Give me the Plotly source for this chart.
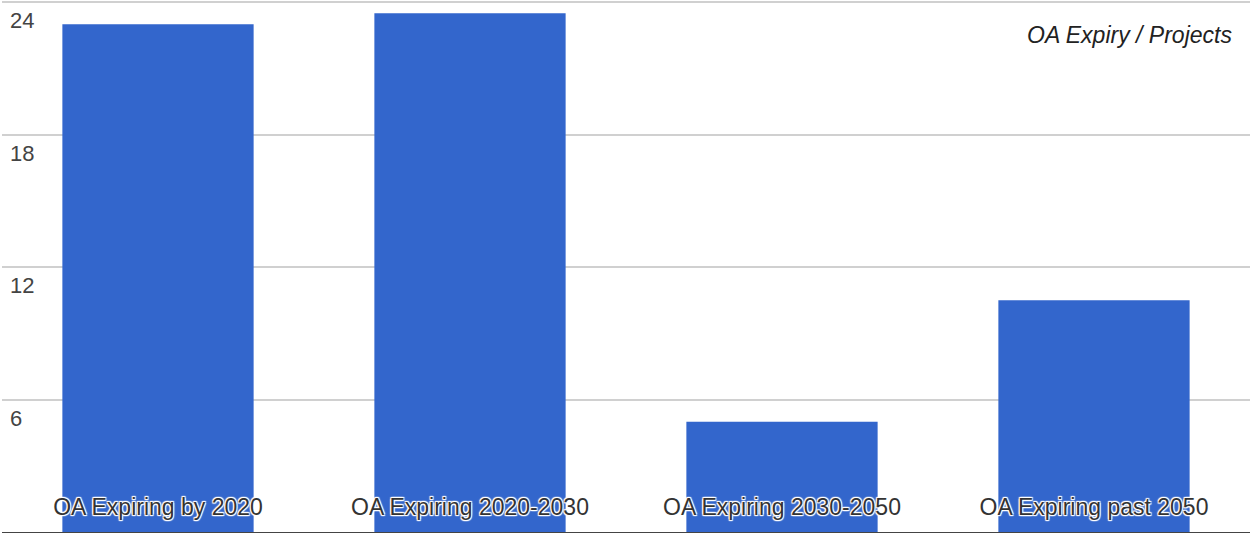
import plotly.graph_objects as go

categories = ["OA Expiring by 2020", "OA Expiring 2020-2030",
              "OA Expiring 2030-2050", "OA Expiring past 2050"]
projects = [23, 23.5, 5, 10.5]
y_ticks = [6, 12, 18, 24]
chart_title = "OA Expiry / Projects"

halo = ("1px 1px 1px #fff, -1px -1px 1px #fff, 1px -1px 1px #fff, "
        "-1px 1px 1px #fff, 0 1px 1px #fff, 0 -1px 1px #fff")

fig = go.Figure(go.Bar(
    x=categories, y=projects,
    marker=dict(color="#3366cc", line=dict(width=0)),
    hoverinfo="x+y",
))

fig.update_layout(
    width=1250, height=533,
    margin=dict(l=2, r=0, t=0, b=1),
    paper_bgcolor="white", plot_bgcolor="white",
    bargap=0.387,
    showlegend=False,
    font=dict(family="Liberation Sans, Arial, sans-serif", color="#444"),
    xaxis=dict(
        range=[-0.5, len(categories) - 0.5],
        ticklabelposition="inside",
        ticklabelstandoff=14,
        tickfont=dict(size=23, color="#333", shadow=halo),
        showline=True, linecolor="#444", linewidth=2,
        showgrid=False, ticks="",
    ),
    yaxis=dict(
        range=[0, 24.1],
        tickvals=y_ticks,
        ticklabelposition="inside bottom",
        ticklabelstandoff=5,
        ticklabelshift=3,
        tickfont=dict(size=22, color="#444"),
        showgrid=True, gridcolor="#d0d0d0", gridwidth=1.5,
        zeroline=False, ticks="", showline=False,
    ),
    annotations=[dict(
        text=chart_title, xref="paper", yref="paper",
        x=0.987, y=0.935, xanchor="right", yanchor="middle",
        showarrow=False,
        font=dict(size=23, color="#222", style="italic",
                  family="Liberation Sans, Arial, sans-serif"),
    )],
)

fig.write_html("out.html")
